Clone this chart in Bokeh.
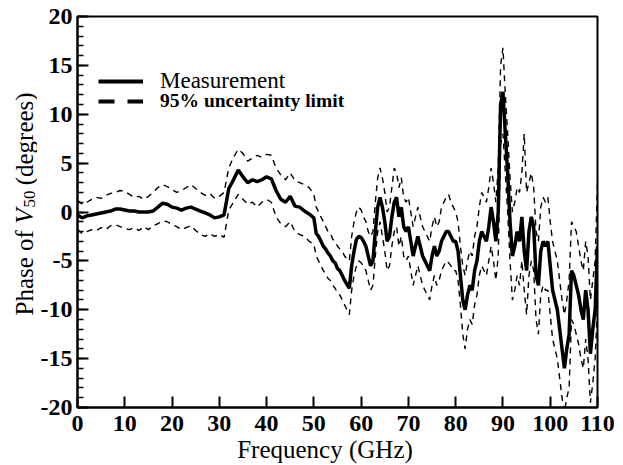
import math
import numpy as np
from bokeh.plotting import figure
from bokeh.layouts import row
from bokeh.models import (Range1d, SingleIntervalTicker, Label, Legend, LegendItem,
                          NumeralTickFormatter)
from bokeh.embed import file_html
from bokeh.resources import INLINE

# Frequency sampling grid (GHz)
freq = np.concatenate([np.arange(0, 51, 1.0), np.arange(50.5, 110.01, 0.5)])

# Measured phase (degrees)
measurement = [
    -0.3, -0.6, -0.4, -0.3, -0.2, -0.1, 0.0, 0.1, 0.3, 0.3,
    0.2, 0.1, 0.1, 0.0, 0.0, 0.0, 0.1, 0.5, 0.9, 0.8,
    0.5, 0.4, 0.2, 0.4, 0.5, 0.3, 0.1, -0.1, -0.3, -0.6,
    -0.5, -0.3, 2.4, 3.3, 4.3, 3.6, 3.0, 3.3, 3.1, 3.3,
    3.6, 3.4, 2.2, 1.3, 1.0, 1.6, 0.6, 0.5, 0.1, -0.2,
    -0.6,
    -2.2, -2.5, -3.0, -3.5, -3.8, -4.2, -4.5, -5.0, -5.2, -5.8,
    -6.0, -6.5, -7.0, -7.4, -7.8, -5.5, -4.0, -2.8, -2.5, -2.6,
    -3.0, -3.5, -4.5, -5.5, -5.0, -2.0, 0.5, 1.5, 0.5, -1.0,
    -3.0, -2.5, -0.5, 1.0, 1.5, -0.5, 0.5, -1.5, -2.0, -1.5,
    -3.0, -4.5, -3.5, -2.5, -3.5, -4.5, -5.0, -5.5, -6.0, -4.5,
    -3.5, -4.5, -4.0, -3.0, -2.5, -2.0, -2.0, -2.5, -3.0, -3.0,
    -4.0, -6.5, -9.0, -10.0, -8.5, -7.5, -8.0, -6.0, -5.0, -3.0,
    -2.0, -2.5, -3.0, -1.5, 0.5, -1.0, -3.0, 0.0, 11.0, 12.3,
    8.0, 4.0, -1.0, -4.5, -3.5, -2.0, -3.0, -0.5, -4.0, -6.0,
    -2.0, -0.5, -1.5, -6.5, -7.5, -4.0, -3.0, -3.5, -3.0, -5.5,
    -8.0, -9.0, -10.0, -12.0, -14.0, -16.0, -14.0, -12.5, -6.0, -6.5,
    -7.5, -8.5, -10.0, -11.0, -8.0, -10.0, -14.5, -12.0, -10.0, -3.5,
]

# Upper 95% uncertainty limit (degrees)
upper = [
    1.2, 0.8, 1.0, 1.3, 1.5, 1.4, 1.7, 1.9, 2.0, 2.2,
    2.1, 1.8, 1.5, 1.6, 1.3, 1.6, 2.0, 2.5, 2.8, 2.6,
    2.3, 2.0, 2.2, 2.5, 2.8, 2.4, 2.0, 1.7, 1.9, 1.4,
    1.6, 2.0, 4.5, 5.6, 6.4, 6.0, 5.2, 5.5, 5.8, 5.6,
    5.9, 5.8, 4.5, 3.8, 3.3, 4.0, 3.2, 3.0, 2.8, 2.5,
    1.8,
    0.5, 0.0, -0.5, -1.0, -1.5, -2.0, -2.2, -2.8, -3.0, -3.5,
    -3.8, -4.0, -4.5, -4.8, -5.0, -2.5, -1.0, 0.0, 0.5, 0.2,
    -0.5, -1.0, -2.0, -2.5, -2.0, 1.0, 3.5, 4.5, 3.5, 2.0,
    0.0, 0.5, 2.5, 4.5, 4.0, 2.5, 3.5, 1.5, 1.0, 1.5,
    0.0, -1.5, -0.5, 0.5, -0.5, -1.5, -2.0, -2.5, -3.0, -1.5,
    -0.5, -1.5, -1.0, 0.5, 1.0, 1.5, 1.8, 1.0, 0.5, 0.0,
    -1.0, -3.5, -5.5, -6.5, -5.0, -4.0, -4.5, -2.5, -1.5, 0.5,
    2.0, 1.5, 1.0, 2.5, 4.5, 3.0, 1.0, 4.5, 15.0, 16.8,
    12.0, 8.0, 3.5, 0.0, 1.0, 2.5, 2.0, 4.0, 8.0, 2.0,
    3.0, 4.0, 2.5, -2.0, -3.0, 0.5, 1.5, 1.0, 1.5, -1.0,
    -3.0, -4.0, -5.0, -7.0, -9.0, -10.5, -9.0, -7.0, -1.0, -1.5,
    -2.0, -3.5, -5.0, -6.0, -3.0, -4.5, -9.0, -7.0, -5.0, 3.0,
]

# Lower 95% uncertainty limit (degrees)
lower = [
    -1.8, -2.2, -2.0, -1.8, -1.9, -1.6, -1.8, -1.4, -1.3, -1.5,
    -1.7, -1.8, -1.6, -1.9, -1.5, -1.8, -1.4, -1.2, -0.9, -1.0,
    -1.3, -1.5, -1.8, -1.6, -1.4, -1.9, -2.3, -2.5, -2.2, -2.5,
    -2.3, -2.6, 0.2, 1.0, 1.8, 1.3, 0.8, 1.0, 0.5, 1.0,
    1.3, 1.0, -0.5, -1.2, -1.5, -1.0, -2.0, -2.3, -2.5, -3.0,
    -3.3,
    -4.5, -5.0, -5.5, -6.0, -6.3, -6.8, -7.0, -7.5, -7.8, -8.3,
    -8.5, -9.0, -9.5, -10.0, -10.5, -8.0, -6.5, -5.5, -5.0, -5.2,
    -5.5, -6.0, -7.0, -8.0, -7.5, -4.5, -2.0, -1.0, -2.5, -4.0,
    -6.0, -5.5, -3.5, -2.0, -1.5, -3.5, -2.5, -4.5, -5.0, -4.5,
    -6.0, -7.5, -6.5, -5.5, -6.5, -7.5, -8.0, -8.5, -9.0, -7.5,
    -6.5, -7.5, -7.0, -6.0, -5.5, -5.0, -5.2, -5.5, -6.0, -6.0,
    -7.0, -9.5, -12.5, -14.0, -12.0, -11.0, -11.5, -9.5, -8.5, -6.5,
    -5.5, -6.0, -6.5, -5.0, -3.5, -5.0, -7.0, -4.5, 7.0, 8.0,
    4.0, 0.0, -5.0, -9.0, -8.0, -6.5, -7.5, -5.0, -8.0, -10.5,
    -6.5, -5.0, -6.0, -11.0, -12.5, -8.5, -7.5, -8.0, -8.0, -10.5,
    -13.0, -14.0, -15.0, -17.0, -19.0, -20.5, -19.0, -18.0, -11.0, -11.5,
    -12.5, -13.5, -15.0, -16.0, -13.0, -15.0, -19.5, -17.5, -15.0, -9.5,
]

legend_labels = ["Measurement", "95% uncertainty limit"]
x_label = "Frequency (GHz)"

SERIF = "Liberation Serif"
TOP, BOTTOM = 16, 56

# ---------------- main plot ----------------
p = figure(width=586, height=465, x_range=Range1d(0, 110), y_range=Range1d(-20, 20),
           output_backend="svg", toolbar_location=None, title=None,
           min_border_left=40, min_border_right=26, min_border_top=TOP, min_border_bottom=BOTTOM)
p.grid.visible = False
p.outline_line_color = "black"
p.outline_line_width = 2
p.background_fill_color = "white"
p.border_fill_color = "white"

p.line(freq, upper, line_color="black", line_width=1.4, line_dash="6 5")
p.line(freq, lower, line_color="black", line_width=1.4, line_dash="6 5")
p.line(freq, measurement, line_color="black", line_width=3.5)

# legend sample glyphs (nothing drawn in the plot area)
r_meas = p.line(x=[np.nan], y=[np.nan], line_color="black", line_width=4)
r_lim = p.line(x=[np.nan], y=[np.nan], line_color="black", line_width=4, line_dash="16 13")

for ax in (p.xaxis[0], p.yaxis[0]):
    ax.axis_line_width = 2
    ax.axis_line_color = "black"
    ax.major_tick_in = 11
    ax.major_tick_out = 0
    ax.major_tick_line_width = 2
    ax.major_tick_line_color = "black"
    ax.major_label_text_font = SERIF
    ax.major_label_text_font_style = "bold"
    ax.major_label_text_font_size = "24px"
    ax.major_label_text_color = "black"
    ax.formatter = NumeralTickFormatter(format="0")

xa = p.xaxis[0]
xa.ticker = SingleIntervalTicker(interval=10, num_minor_ticks=0)
xa.minor_tick_line_color = None
xa.major_label_standoff = 8
# trailing no-break spaces shift the centred title slightly left, as in the original
xa.axis_label = x_label + "\u00a0" * 4
xa.axis_label_text_font = SERIF
xa.axis_label_text_font_size = "25px"
xa.axis_label_text_font_style = "normal"
xa.axis_label_text_color = "black"
xa.axis_label_standoff = 2

ya = p.yaxis[0]
ya.ticker = SingleIntervalTicker(interval=5, num_minor_ticks=5)
ya.minor_tick_in = 6
ya.minor_tick_out = 0
ya.minor_tick_line_width = 1.5
ya.minor_tick_line_color = "black"
ya.major_label_standoff = 5

leg1 = Legend(items=[LegendItem(label=legend_labels[0], renderers=[r_meas])],
              location=(21, 313), glyph_width=45, glyph_height=20, label_standoff=17,
              padding=0, margin=0, spacing=0, border_line_color=None, background_fill_alpha=0,
              label_text_font=SERIF, label_text_font_size="23px", label_text_color="black")
leg2 = Legend(items=[LegendItem(label=legend_labels[1], renderers=[r_lim])],
              location=(21, 295), glyph_width=45, glyph_height=20, label_standoff=17,
              padding=0, margin=0, spacing=0, border_line_color=None, background_fill_alpha=0,
              label_text_font=SERIF, label_text_font_size="19.5px", label_text_font_style="bold",
              label_text_color="black")
p.add_layout(leg1)
p.add_layout(leg2)

# ---------------- y-axis title strip (frame aligned with the main frame) ----------------
ylab = figure(width=37, height=465, x_axis_type=None, y_axis_type=None,
              x_range=Range1d(0, 1), y_range=Range1d(0, 1), title=None,
              output_backend="svg", toolbar_location=None,
              min_border_left=0, min_border_right=0, min_border_top=TOP, min_border_bottom=BOTTOM)
ylab.outline_line_color = None
ylab.grid.visible = False

fs = 25
bx = 24
y0 = 92
w1 = 3.666 * fs
wV = 0.611 * fs
w50 = 17
pieces = [
    ("Phase of", bx, y0, "normal", "25px"),
    ("V", bx, y0 + w1, "italic", "25px"),
    ("50", 28.5, y0 + w1 + wV + 1, "normal", "17px"),
    ("(degrees)", bx, y0 + w1 + wV + w50 + 0.25 * fs, "normal", "25px"),
]
for txt, xx, yy, sty, sz in pieces:
    ylab.add_layout(Label(x=xx, y=yy, x_units="screen", y_units="screen", text=txt,
                          angle=math.pi / 2, text_align="left", text_baseline="middle",
                          text_font=SERIF, text_font_size=sz, text_font_style=sty,
                          text_color="black"))

layout = row(ylab, p)
open("out.html", "w").write(file_html(layout, INLINE))
